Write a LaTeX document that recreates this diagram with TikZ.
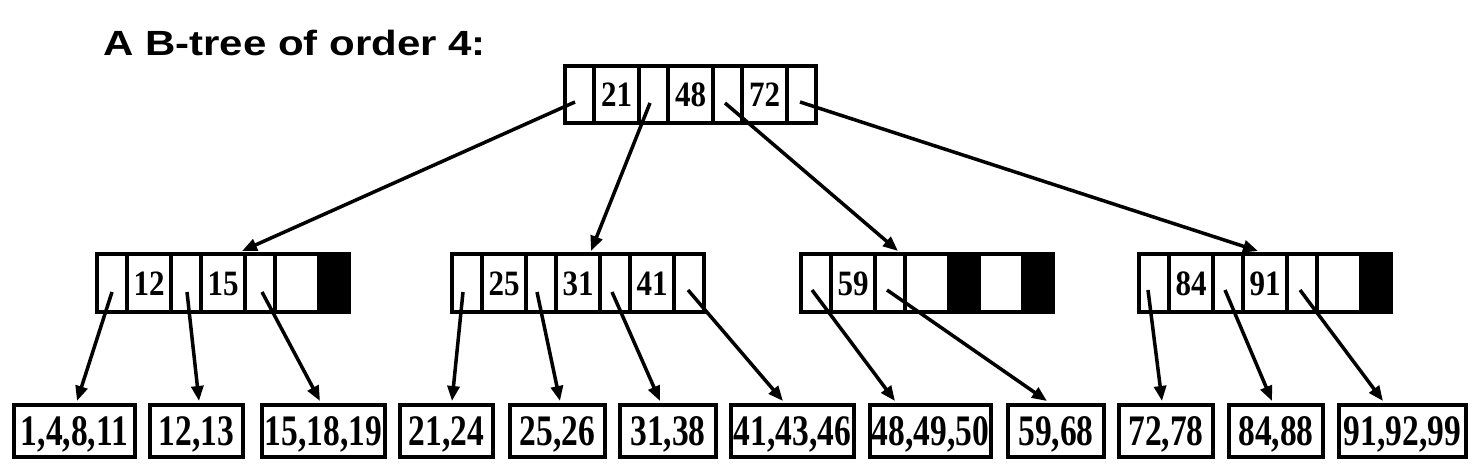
\documentclass[tikz,border=0pt]{standalone}
\usepackage{fontspec}
\usepackage{graphicx}
\setmainfont{Liberation Serif}
\newfontfamily\titlefont{Liberation Sans}
\usetikzlibrary{arrows.meta}
\newcommand\K[1]{\scalebox{1}[1.15]{#1}}
\newcommand\LV[1]{\scalebox{1}[1.3]{#1}}
\newcommand\TT[1]{\scalebox{1.2}[1]{#1}}
\begin{document}
\begin{tikzpicture}[x=1pt,y=-1pt,
  cell/.style={draw, line width=4pt, inner sep=0pt, outer sep=0pt, anchor=west,
    text height=24pt, text depth=0pt, font=\fontsize{31}{31}\selectfont\bfseries},
  rcell/.style={cell, minimum height=57pt},
  icell/.style={cell, minimum height=58pt},
  rp/.style={rcell, minimum width=29pt},
  rk/.style={rcell, minimum width=45pt},
  ip/.style={icell, minimum width=30pt},
  ik/.style={icell, minimum width=44pt},
  blk/.style={fill=black},
  leaf/.style={draw, line width=4pt, inner sep=0pt, outer sep=0pt, anchor=west, minimum height=52pt,
    text height=29pt, text depth=0pt, font=\fontsize{33.5}{33.5}\selectfont\bfseries},
  link/.style={line width=3.5pt, -{Triangle[length=15pt,width=12pt]}},
  titletext/.style={anchor=base west, inner sep=0pt, font=\titlefont\fontsize{35}{35}\selectfont\bfseries}
]
\useasboundingbox (0,0) rectangle (1480,471);

\node[titletext] (title) at (103,55) {\TT{A B-tree of order 4:}};

% root
\node[rp] (r1) at (565,94.5) {};
\node[rk] (r2) at (r1.east) {\K{21}};
\node[rp] (r3) at (r2.east) {};
\node[rk] (r4) at (r3.east) {\K{48}};
\node[rp] (r5) at (r4.east) {};
\node[rk] (r6) at (r5.east) {\K{72}};
\node[rp] (r7) at (r6.east) {};

% internal node A
\node[ip] (a1) at (97,283) {};
\node[ik] (a2) at (a1.east) {\K{12}};
\node[ip] (a3) at (a2.east) {};
\node[ik] (a4) at (a3.east) {\K{15}};
\node[ip] (a5) at (a4.east) {};
\node[ik] (a6) at (a5.east) {};
\node[ip,blk] (a7) at (a6.east) {};

% internal node B
\node[ip] (b1) at (452,283) {};
\node[ik] (b2) at (b1.east) {\K{25}};
\node[ip] (b3) at (b2.east) {};
\node[ik] (b4) at (b3.east) {\K{31}};
\node[ip] (b5) at (b4.east) {};
\node[ik] (b6) at (b5.east) {\K{41}};
\node[ip] (b7) at (b6.east) {};

% internal node C
\node[ip] (c1) at (801,283) {};
\node[ik] (c2) at (c1.east) {\K{59}};
\node[ip] (c3) at (c2.east) {};
\node[ik] (c4) at (c3.east) {};
\node[ip,blk] (c5) at (c4.east) {};
\node[ik] (c6) at (c5.east) {};
\node[ip,blk] (c7) at (c6.east) {};

% internal node D
\node[ip] (d1) at (1139,283) {};
\node[ik] (d2) at (d1.east) {\K{84}};
\node[ip] (d3) at (d2.east) {};
\node[ik] (d4) at (d3.east) {\K{91}};
\node[ip] (d5) at (d4.east) {};
\node[ik] (d6) at (d5.east) {};
\node[ip,blk] (d7) at (d6.east) {};

% leaves
\node[leaf, minimum width=121pt] (l1) at (14,431) {\LV{1,4,8,11}};
\node[leaf, minimum width=93pt] (l2) at (150,431) {\LV{12,13}};
\node[leaf, minimum width=123pt] (l3) at (262,431) {\LV{15,18,19}};
\node[leaf, minimum width=93pt] (l4) at (400,431) {\LV{21,24}};
\node[leaf, minimum width=95pt] (l5) at (510,431) {\LV{25,26}};
\node[leaf, minimum width=96pt] (l6) at (620,431) {\LV{31,38}};
\node[leaf, minimum width=123pt] (l7) at (731,431) {\LV{41,43,46}};
\node[leaf, minimum width=121pt] (l8) at (870,431) {\LV{48,49,50}};
\node[leaf, minimum width=96pt] (l9) at (1008,431) {\LV{59,68}};
\node[leaf, minimum width=94pt] (l10) at (1119,431) {\LV{72,78}};
\node[leaf, minimum width=94pt] (l11) at (1229,431) {\LV{84,88}};
\node[leaf, minimum width=127pt] (l12) at (1339,431) {\LV{91,92,99}};

% pointer start coordinates
\coordinate (sr1) at (575,102);
\coordinate (sr3) at (650,103);
\coordinate (sr5) at (725,103);
\coordinate (sr7) at (800,102);
\coordinate (sa1) at (112,292);
\coordinate (sa3) at (187,292);
\coordinate (sa5) at (262,292);
\coordinate (sb1) at (463,292);
\coordinate (sb3) at (537,292);
\coordinate (sb5) at (612,292);
\coordinate (sb7) at (688,290);
\coordinate (sc1) at (812,290);
\coordinate (sc3) at (887,290);
\coordinate (sd1) at (1148,290);
\coordinate (sd3) at (1225,290);
\coordinate (sd5) at (1300,290);

% arrow tip coordinates
\coordinate (ta) at (242,251);
\coordinate (tb) at (591,251);
\coordinate (tc) at (898,251);
\coordinate (td) at (1258,251);
\coordinate (t1) at (77,401);
\coordinate (t2) at (199,401);
\coordinate (t3) at (320,401);
\coordinate (t4) at (452,401);
\coordinate (t5) at (560,401);
\coordinate (t6) at (660,401);
\coordinate (t7) at (783,401);
\coordinate (t8) at (895,401);
\coordinate (t9) at (1047,401);
\coordinate (t10) at (1162,401);
\coordinate (t11) at (1272,401);
\coordinate (t12) at (1383,401);

\draw[link] (sr1) -- (ta);
\draw[link] (sr3) -- (tb);
\draw[link] (sr5) -- (tc);
\draw[link] (sr7) -- (td);

\draw[link] (sa1) -- (t1);
\draw[link] (sa3) -- (t2);
\draw[link] (sa5) -- (t3);
\draw[link] (sb1) -- (t4);
\draw[link] (sb3) -- (t5);
\draw[link] (sb5) -- (t6);
\draw[link] (sb7) -- (t7);
\draw[link] (sc1) -- (t8);
\draw[link] (sc3) -- (t9);
\draw[link] (sd1) -- (t10);
\draw[link] (sd3) -- (t11);
\draw[link] (sd5) -- (t12);
\end{tikzpicture}
\end{document}
